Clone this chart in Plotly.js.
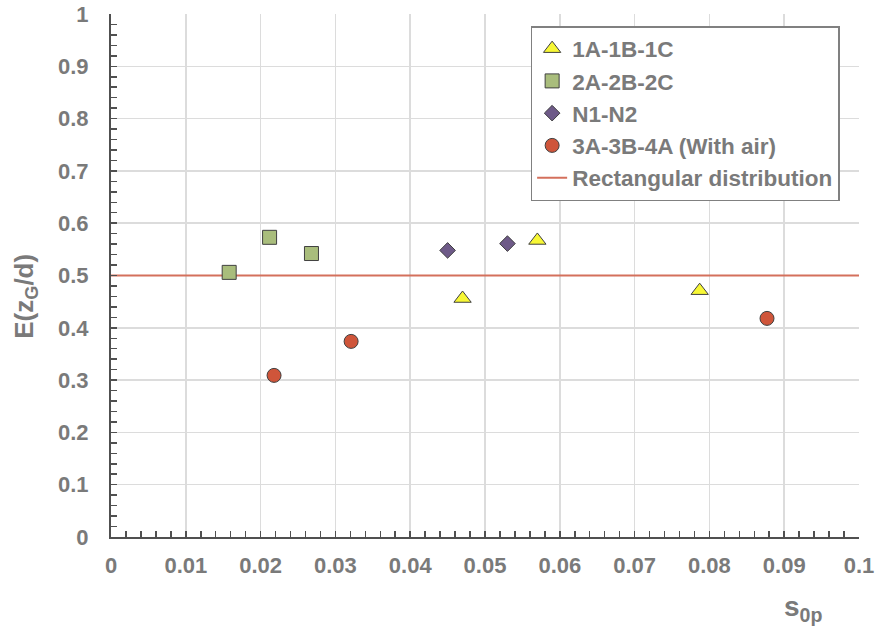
<!DOCTYPE html>
<html><head><meta charset="utf-8">
<script src="https://cdn.plot.ly/plotly-3.0.1.min.js"></script>
<style>body{margin:0;padding:0;background:#fff}#chart{width:875px;height:628px}</style>
</head><body><div id="chart"></div>
<script>
const seriesNames = ["1A-1B-1C", "2A-2B-2C", "N1-N2", "3A-3B-4A (With air)"];
const x1 = [0.0470, 0.0570, 0.0787];
const y1 = [0.456, 0.567, 0.471];
const x2 = [0.0158, 0.0212, 0.0268];
const y2 = [0.506, 0.573, 0.542];
const x3 = [0.0450, 0.0530];
const y3 = [0.548, 0.561];
const x4 = [0.0218, 0.0321, 0.0877];
const y4 = [0.309, 0.374, 0.418];
const lineName = "Rectangular distribution";
const lineX = [0, 0.1];
const lineY = [0.5, 0.5];

const outline = {color: "#404040", width: 1};
const gray = "#7a7a7a";
const fam = "Liberation Sans, Arial, sans-serif";
const fnt = {family: fam, size: 22, color: gray, weight: "bold"};

const traces = [
  {x: lineX, y: lineY, name: lineName, mode: "lines", type: "scatter", legendrank: 5, legendgroup: "e",
   line: {color: "#d4705c", width: 2}},
  {x: x1, y: y1, name: seriesNames[0], mode: "markers", type: "scatter", legendrank: 1, legendgroup: "a",
   marker: {symbol: "triangle-up", size: 15, color: "#f7f735", line: outline}},
  {x: x2, y: y2, name: seriesNames[1], mode: "markers", type: "scatter", legendrank: 2, legendgroup: "b",
   marker: {symbol: "square", size: 14, color: "#a9bd7c", line: outline}},
  {x: x3, y: y3, name: seriesNames[2], mode: "markers", type: "scatter", legendrank: 3, legendgroup: "c",
   marker: {symbol: "diamond", size: 12, color: "#6e5a88", line: outline}},
  {x: x4, y: y4, name: seriesNames[3], mode: "markers", type: "scatter", legendrank: 4, legendgroup: "d",
   marker: {symbol: "circle", size: 14, color: "#cf553a", line: outline}}
];

const layout = {
  width: 875, height: 628,
  margin: {l: 111, r: 16, t: 14, b: 91},
  paper_bgcolor: "#fff", plot_bgcolor: "#fff",
  font: fnt,
  showlegend: true,
  legend: {
    x: 0.561, y: 0.977, xanchor: "left", yanchor: "top",
    bordercolor: "#808080", borderwidth: 1.5, bgcolor: "#fff",
    font: {family: fam, size: 22.5, color: gray, weight: "bold"},
    traceorder: "grouped", itemwidth: 30, tracegroupgap: 0
  },
  xaxis: {
    range: [0, 0.1], dtick: 0.01, tick0: 0,
    showgrid: true, gridcolor: "#dcdcdc", gridwidth: 1.5,
    zeroline: false, showline: true, linecolor: "#505050", linewidth: 2,
    ticks: "inside", ticklen: 6, tickcolor: "#505050", tickwidth: 1.5,
    minor: {dtick: 0.002, ticks: "inside", ticklen: 6, tickcolor: "#505050", tickwidth: 1.5, showgrid: false},
    tickfont: {family: fam, size: 22, color: gray, weight: "bold"},
    ticklabelstandoff: 8,
    tickformat: "~r"
  },
  yaxis: {
    range: [0, 1], dtick: 0.1, tick0: 0,
    showgrid: true, gridcolor: "#dcdcdc", gridwidth: 1.5,
    zeroline: false, showline: true, linecolor: "#505050", linewidth: 2,
    ticks: "inside", ticklen: 6, tickcolor: "#505050", tickwidth: 1.5,
    minor: {dtick: 0.02, ticks: "inside", ticklen: 6, tickcolor: "#505050", tickwidth: 1.5, showgrid: false},
    tickfont: {family: fam, size: 22, color: gray, weight: "bold"},
    ticklabelstandoff: 16
  },
  annotations: [{
    xref: "paper", yref: "paper", x: 0.925, y: -0.137, xanchor: "center", yanchor: "middle",
    text: "s<sub>0p</sub>", showarrow: false,
    font: {family: fam, size: 28, color: gray, weight: "bold"}
  }, {
    xref: "paper", yref: "paper", x: -0.1145, y: 0.46, xanchor: "center", yanchor: "middle",
    text: "E(z<sub>G</sub>/d)", showarrow: false, textangle: -90,
    font: {family: fam, size: 26, color: gray, weight: "bold"}
  }]
};
Plotly.newPlot("chart", traces, layout, {displayModeBar: false, staticPlot: true});
</script></body></html>
